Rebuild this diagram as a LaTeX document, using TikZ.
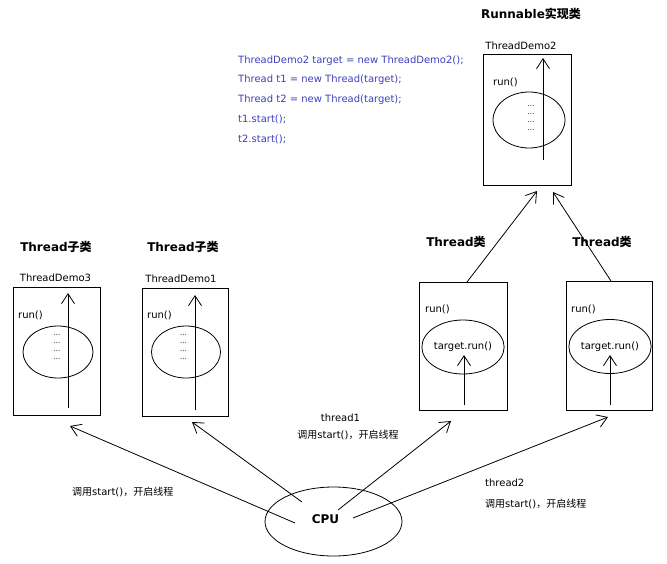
\documentclass[tikz,border=0pt]{standalone}
\usepackage{fontspec}
\setmainfont{DejaVu Sans}
\newfontfamily\cjk{Noto Sans CJK SC}
\usetikzlibrary{arrows.meta,shapes.geometric}
\definecolor{codeblue}{RGB}{64,64,192}
\newcommand\zh[1]{{\cjk #1}}
\begin{document}
\begin{tikzpicture}[x=1pt,y=-1pt,
  box/.style={draw, line width=0.8pt, inner sep=0pt, outer sep=0pt},
  oval/.style={draw, ellipse, line width=0.8pt, inner sep=0pt, outer sep=0pt, font=\fontsize{10}{12}\selectfont},
  txt/.style={inner sep=0pt, font=\fontsize{10}{12}\selectfont, text height=7.5pt, text depth=2pt},
  code/.style={txt, text=codeblue, anchor=west},
  head/.style={inner sep=0pt, font=\bfseries\fontsize{12}{14}\selectfont, text height=9pt, text depth=2pt},
  dots/.style={inner sep=0pt, align=center, font=\fontsize{7}{8}\selectfont},
  arr/.style={line width=0.8pt, -{Straight Barb[length=10pt,width=13pt,line width=0.8pt]}}]
\useasboundingbox (0,0) rectangle (667,563);
\fill[white] (0,0) rectangle (667,563);

% code
\node[code] (l1) at (238,61) {ThreadDemo2 target = new ThreadDemo2();};
\node[code] (l2) at (238,80) {Thread t1 = new Thread(target);};
\node[code] (l3) at (238,100) {Thread t2 = new Thread(target);};
\node[code] (l4) at (238,120) {t1.start();};
\node[code] (l5) at (238,140) {t2.start();};

% headers
\node[head] (hr) at (531,15) {Runnable\zh{实现类}};
\node[head] (h3) at (56,248) {Thread\zh{子类}};
\node[head] (h1) at (183,248) {Thread\zh{子类}};
\node[head] (ht1) at (456,243) {Thread\zh{类}};
\node[head] (ht2) at (602,243) {Thread\zh{类}};

% class names
\node[txt] (n2) at (521,47) {ThreadDemo2};
\node[txt] (n3) at (55.5,279) {ThreadDemo3};
\node[txt] (n1) at (181,280) {ThreadDemo1};

% boxes
\node[box, minimum width=87pt, minimum height=128pt] (b3) at (56.5,351) {};
\node[box, minimum width=86pt, minimum height=128pt] (b1) at (185,352) {};
\node[box, minimum width=88pt, minimum height=128pt] (t1) at (463,346) {};
\node[box, minimum width=86pt, minimum height=129pt] (t2) at (609,345.5) {};
\node[box, minimum width=88pt, minimum height=131pt] (rb) at (527,119.5) {};

% run() labels
\node[txt, anchor=west] (r3) at (18,316) {run()};
\node[txt, anchor=west] (r1) at (147,316) {run()};
\node[txt, anchor=west] (rt1) at (425,310) {run()};
\node[txt, anchor=west] (rt2) at (571,310) {run()};
\node[txt, anchor=west] (rr) at (493,83) {run()};

% ellipses
\node[oval, minimum width=70pt, minimum height=52pt] (e3) at (58,352) {};
\node[oval, minimum width=69pt, minimum height=52pt] (e1) at (186,352) {};
\node[oval, minimum width=66pt, minimum height=54pt] (et1) at (463,347) {target.run()};
\node[oval, minimum width=68pt, minimum height=54pt] (et2) at (610,346.5) {target.run()};
\node[oval, minimum width=72pt, minimum height=56pt] (er) at (529,120) {};

% dots
\node[dots] (d3) at (57,347) {...\\...\\...\\...};
\node[dots] (d1) at (183.5,347) {...\\...\\...\\...};
\node[dots] (dr) at (531,118) {...\\...\\...\\...};

% inner arrows
\coordinate (a3s) at (68,408);   \coordinate (a3e) at (68,293);
\coordinate (a1s) at (195,410);  \coordinate (a1e) at (195,295);
\coordinate (at1s) at (464,405); \coordinate (at1e) at (464,355);
\coordinate (at2s) at (610,405); \coordinate (at2e) at (610,355);
\coordinate (ars) at (543,160);  \coordinate (are) at (543,58);
\draw[arr] (a3s) -- (a3e);
\draw[arr] (a1s) -- (a1e);
\draw[arr] (at1s) -- (at1e);
\draw[arr] (at2s) -- (at2e);
\draw[arr] (ars) -- (are);

% Thread -> Runnable
\coordinate (u1s) at (467,282); \coordinate (u1e) at (537,191);
\coordinate (u2s) at (611,281); \coordinate (u2e) at (553,192);
\draw[arr] (u1s) -- (u1e);
\draw[arr] (u2s) -- (u2e);

% CPU
\node[oval, minimum width=137pt, minimum height=69pt] (cpu) at (333.5,521.5) {};
\node[head] (cputxt) at (325.5,520) {CPU};

\coordinate (c3) at (295,523);  \coordinate (k3) at (70,426);
\coordinate (c1) at (302,502);  \coordinate (k1) at (192,422);
\coordinate (ct1) at (338,510); \coordinate (kt1) at (451,421);
\coordinate (ct2) at (353,518); \coordinate (kt2) at (608,417);
\draw[arr] (c3) -- (k3);
\draw[arr] (c1) -- (k1);
\draw[arr] (ct1) -- (kt1);
\draw[arr] (ct2) -- (kt2);

% labels
\node[txt] (th1) at (340.5,419) {thread1};
\node[txt] (s1) at (348,436) {\zh{调用}start()\zh{，开启线程}};
\node[txt, anchor=west] (s0) at (72,493) {\zh{调用}start()\zh{，开启线程}};
\node[txt, anchor=west] (th2) at (485,484) {thread2};
\node[txt, anchor=west] (s2) at (485,505) {\zh{调用}start()\zh{，开启线程}};
\end{tikzpicture}
\end{document}
